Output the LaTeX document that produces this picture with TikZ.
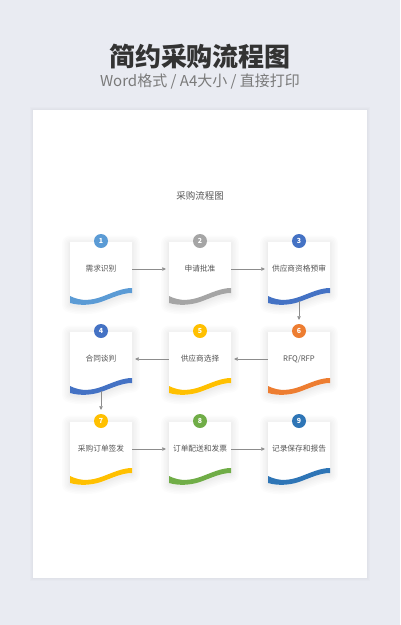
\documentclass[tikz,border=0pt]{standalone}
\usepackage{fontspec}
\setmainfont{Noto Sans CJK SC}
\usetikzlibrary{arrows.meta}
\definecolor{bgc}{HTML}{E9EBF2}
\definecolor{titc}{HTML}{333333}
\definecolor{subc}{HTML}{7A7A7A}
\definecolor{txtc}{HTML}{555555}
\definecolor{arrc}{HTML}{8C8C8C}
\definecolor{cA}{HTML}{5B9BD5}
\definecolor{cB}{HTML}{A5A5A5}
\definecolor{cC}{HTML}{4472C4}
\definecolor{cD}{HTML}{FFC000}
\definecolor{cE}{HTML}{ED7D31}
\definecolor{cF}{HTML}{70AD47}
\definecolor{cG}{HTML}{2E75B6}
\tikzset{
  cardtext/.style={text=txtc, font=\fontsize{7.7}{9}\selectfont, inner sep=0pt, minimum width=62pt, minimum height=8pt},
  numcirc/.style={circle, inner sep=0pt, minimum size=14pt, text=white, font=\bfseries\fontsize{7}{8}\selectfont},
  arr/.style={draw=arrc, line width=0.6pt, -{Triangle[length=3.5pt,width=3.5pt]}},
  shad/.style={draw=black, opacity=0.011, line join=round},
}
\newcommand{\cardbody}{(0,0) -- (62,0) -- (62,51) .. controls (52,51) and (42,56) .. (31,60) .. controls (22,63) and (10,64) .. (0,61) -- cycle}
\newcommand{\mycard}[6]{%
  \begin{scope}[shift={(#2-31,#3)}]
    \begin{scope}[yshift=-1.5pt]
    \foreach \w in {16,13,10,7,4,2}{\draw[shad, line width=\w pt] \cardbody;}
    \end{scope}
    \fill[white] \cardbody;
    \fill[#4] (0,54) .. controls (12,60) and (22,58) .. (31,55) .. controls (42,51) and (52,46) .. (62,46)
      -- (62,51) .. controls (52,51) and (42,56) .. (31,60) .. controls (22,63) and (10,64) .. (0,61) -- cycle;
  \end{scope}
  \node[cardtext] (t#1) at (#2,#3+27) {#6};
  \node[numcirc, fill=#4] (n#1) at (#2,#3-1) {#5};
  \coordinate (b#1) at (#2,#3+59);
}
\begin{document}
\begin{tikzpicture}[x=1pt,y=-1pt]
\useasboundingbox (0,0) rectangle (400,625);
\fill[bgc] (0,0) rectangle (400,625);
\foreach \w in {6,4,2}{\draw[draw=black, opacity=0.012, line width=\w pt] (33,110) rectangle (367,578);}
\fill[white] (33,110) rectangle (367,578);
\node[text=titc, font=\bfseries\fontsize{26}{30}\selectfont] (title) at (200,57) {简约采购流程图};
\node[text=subc, font=\fontsize{15}{18}\selectfont] (sub) at (200,82) {Word格式 / A4大小 / 直接打印};
\node[text=txtc, font=\fontsize{9.5}{11}\selectfont] (inner) at (200,196) {采购流程图};
\mycard{1}{101}{242}{cA}{1}{需求识别}
\mycard{2}{200}{242}{cB}{2}{申请批准}
\mycard{3}{299}{242}{cC}{3}{供应商资格预审}
\mycard{4}{101}{332}{cC}{4}{合同谈判}
\mycard{5}{200}{332}{cD}{5}{供应商选择}
\mycard{6}{299}{332}{cE}{6}{RFQ/RFP}
\mycard{7}{101}{422}{cD}{7}{采购订单签发}
\mycard{8}{200}{422}{cF}{8}{订单配送和发票}
\mycard{9}{299}{422}{cG}{9}{记录保存和报告}
\draw[arr, shorten >=3pt] (t1.east) -- (t2.west);
\draw[arr, shorten >=3pt] (t2.east) -- (t3.west);
\draw[arr] (b3) -- ([yshift=4pt]n6.north);
\draw[arr, shorten >=3pt] (t6.west) -- (t5.east);
\draw[arr, shorten >=3pt] (t5.west) -- (t4.east);
\draw[arr] (b4) -- ([yshift=4pt]n7.north);
\draw[arr, shorten >=3pt] (t7.east) -- (t8.west);
\draw[arr, shorten >=3pt] (t8.east) -- (t9.west);
\end{tikzpicture}
\end{document}
